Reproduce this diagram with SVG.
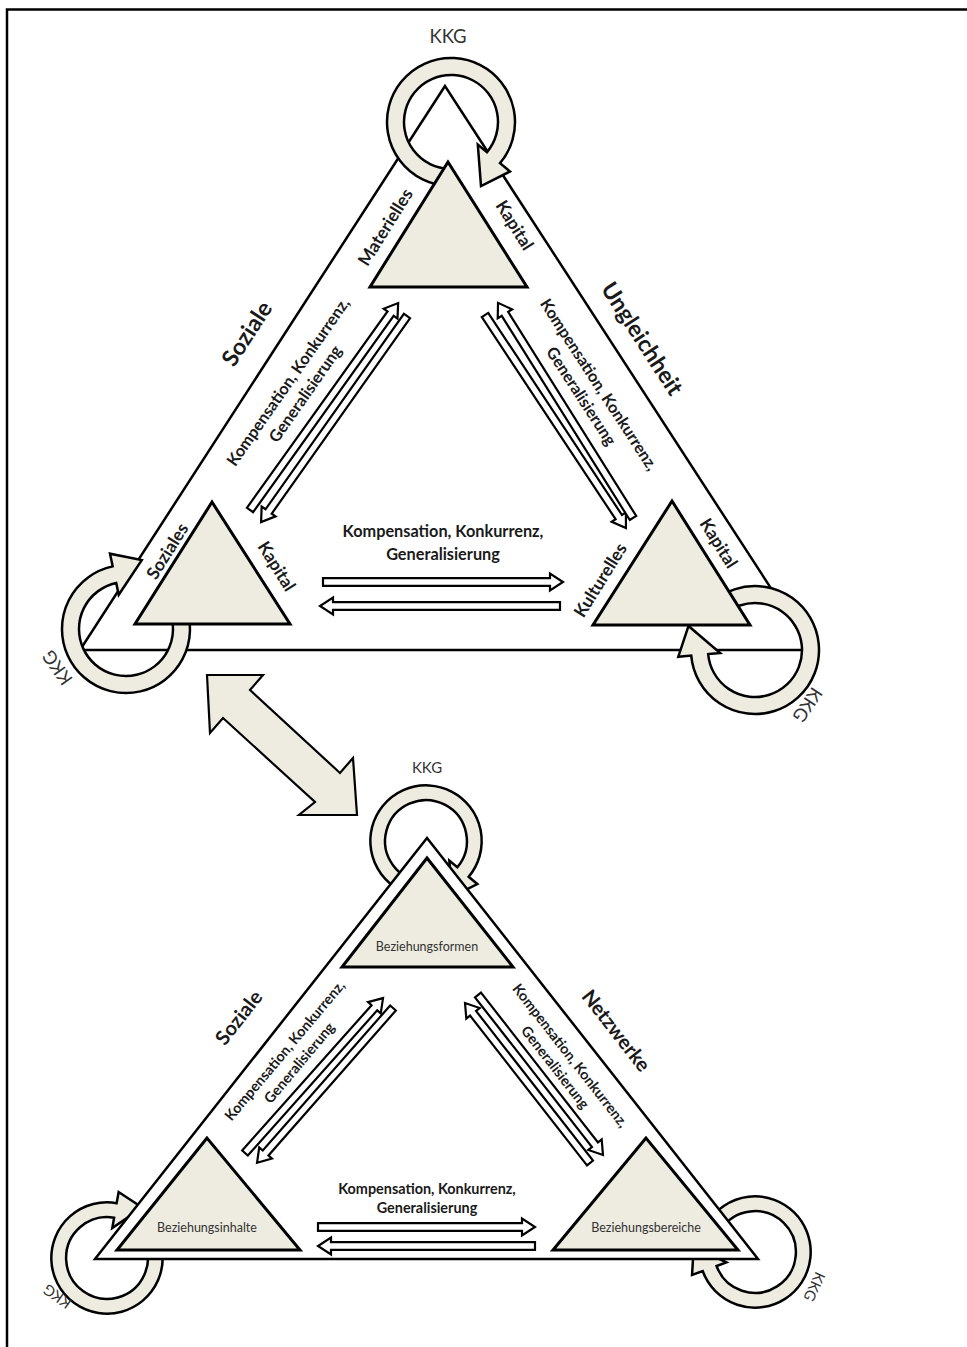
<svg xmlns="http://www.w3.org/2000/svg" xmlns:xlink="http://www.w3.org/1999/xlink" width="967" height="1347" viewBox="0 0 967 1347">
<style>
  .frame{fill:none;stroke:#000;stroke-width:2.5}
  .big{fill:none;stroke:#000;stroke-width:2.5;stroke-linejoin:miter}
  .outer{fill:#fff;stroke:#000;stroke-width:2.5}
  .node{fill:#EEECE1;stroke:#000;stroke-width:3;stroke-linejoin:miter}
  .ring{fill:#EEECE1;stroke:#000;stroke-width:2.5;stroke-linejoin:miter;vector-effect:non-scaling-stroke}
  .arr{fill:#fff;stroke:#000;stroke-width:2.2;stroke-linejoin:miter}
  .block{fill:#EEECE1;stroke:#000;stroke-width:2.2;stroke-linejoin:miter}
  text{font-family:Lato,"Open Sans","Liberation Sans",sans-serif;text-anchor:middle;dominant-baseline:central}
  .b{font-weight:700;fill:#1a1a1a}
  .t1{font-size:23px}
  .t2{font-size:17.5px}
  .t3{font-size:16.3px}
  .t4{font-size:20px}
  .t5{font-size:14.4px}
  .kkg{font-weight:400;fill:#333;font-size:18.5px}
  .kkgs{font-weight:400;fill:#333;font-size:15px}
  .in{font-weight:400;fill:#333;font-size:12.5px}
</style>
<defs>
  <path id="loop" class="ring" d="M-2.23,63.96 A64,64 0 1 1 49.03,41.14 L58.99,49.49 L30,64 L26.81,22.5 L36,30.21 A47,47 0 1 0 -1.64,46.97 Z"/>
</defs>
<rect width="967" height="1347" fill="#fff"/>
<g id="frame"><path class="frame" d="M7,1347 V9.5 H967"/></g>

<!-- ===== Top diagram ===== -->
<g id="top-frame-triangle"><polygon class="big" points="445,86 80,650 811,650"/></g>
<g id="top-self-loops">
  <use xlink:href="#loop" href="#loop" transform="translate(451,122)"/>
  <use xlink:href="#loop" href="#loop" transform="translate(126,629) rotate(218)"/>
  <use xlink:href="#loop" href="#loop" transform="translate(755,650) rotate(135)"/>
  <text class="kkg" x="448" y="36">KKG</text>
  <text class="kkg" transform="translate(57,668) rotate(235)">KKG</text>
  <text class="kkg" transform="translate(808,705) rotate(124)">KKG</text>
</g>
<g id="node-materielles-kapital">
  <polygon class="node" points="448,162 370,287 527,287"/>
  <text class="b t2" transform="translate(385,227) rotate(-58)">Materielles</text>
  <text class="b t2" transform="translate(515,225) rotate(58)">Kapital</text>
</g>
<g id="node-soziales-kapital">
  <polygon class="node" points="212,502 135,624 290,624"/>
  <text class="b t2" transform="translate(167,551) rotate(-58)">Soziales</text>
  <text class="b t2" transform="translate(277,566) rotate(58)">Kapital</text>
</g>
<g id="node-kulturelles-kapital">
  <polygon class="node" points="672,501 593,625 750,625"/>
  <text class="b t2" transform="translate(600,580) rotate(-58)">Kulturelles</text>
  <text class="b t2" transform="translate(719,543) rotate(58)">Kapital</text>
</g>
<g id="top-titles">
  <text class="b t1" transform="translate(246,333) rotate(-57)">Soziale</text>
  <text class="b t1" transform="translate(643,338) rotate(57)">Ungleichheit</text>
  <text class="b t3" transform="translate(287,381) rotate(-55)"><tspan x="0" y="0">Kompensation, Konkurrenz,</tspan><tspan x="0" y="21">Generalisierung</tspan></text>
  <text class="b t3" transform="translate(600,384) rotate(57)"><tspan x="0" y="0">Kompensation, Konkurrenz,</tspan><tspan x="0" y="21">Generalisierung</tspan></text>
  <text class="b t3" x="443" y="530">Kompensation, Konkurrenz,</text>
  <text class="b t3" x="443" y="553">Generalisierung</text>
</g>

<!-- ===== Bottom diagram ===== -->
<g id="bottom-self-loops">
  <use xlink:href="#loop" href="#loop" transform="translate(426,841) scale(0.87)"/>
  <use xlink:href="#loop" href="#loop" transform="translate(107,1258) rotate(240) scale(0.87)"/>
  <use xlink:href="#loop" href="#loop" transform="translate(755,1252) rotate(120) scale(0.87)"/>
  <text class="kkgs" x="427" y="767">KKG</text>
  <text class="kkgs" transform="translate(57,1297) rotate(215)">KKG</text>
  <text class="kkgs" transform="translate(815,1287) rotate(115)">KKG</text>
</g>
<g id="bottom-frame-triangle"><polygon class="outer" points="427,838 95,1259 758,1259"/></g>
<g id="node-beziehungsformen">
  <polygon class="node" points="427,858 342,967 513,967"/>
  <text class="in" x="427" y="946">Beziehungsformen</text>
</g>
<g id="node-beziehungsinhalte">
  <polygon class="node" points="207,1138 117,1250 300,1250"/>
  <text class="in" x="207" y="1227">Beziehungsinhalte</text>
</g>
<g id="node-beziehungsbereiche">
  <polygon class="node" points="646,1138 553,1250 738,1250"/>
  <text class="in" x="646" y="1227">Beziehungsbereiche</text>
</g>
<g id="bottom-titles">
  <text class="b t4" transform="translate(238,1017) rotate(-52)">Soziale</text>
  <text class="b t4" transform="translate(617,1030) rotate(52)">Netzwerke</text>
  <text class="b t5" transform="translate(284,1050) rotate(-50)"><tspan x="0" y="0">Kompensation, Konkurrenz,</tspan><tspan x="0" y="19">Generalisierung</tspan></text>
  <text class="b t5" transform="translate(571,1055) rotate(52)"><tspan x="0" y="0">Kompensation, Konkurrenz,</tspan><tspan x="0" y="19">Generalisierung</tspan></text>
  <text class="b t5" x="427" y="1188">Kompensation, Konkurrenz,</text>
  <text class="b t5" x="427" y="1207">Generalisierung</text>
</g>

<!-- ===== Connectors ===== -->
<g id="connectors">
  <path class="arr" transform="translate(323,582)" d="M0,-3.8 H227 V-8.5 L240,0 L227,8.5 V3.8 H0 Z"/>
  <path class="arr" transform="translate(560,606) rotate(180)" d="M0,-3.8 H227 V-8.5 L240,0 L227,8.5 V3.8 H0 Z"/>
  <path class="arr" transform="translate(250,510) rotate(-54.4)" d="M0,-3.8 H241.5 V-8.5 L254.5,0 L241.5,8.5 V3.8 H0 Z"/>
  <path class="arr" transform="translate(407,316) rotate(125.3)" d="M0,-3.8 H239.5 V-8.5 L252.5,0 L239.5,8.5 V3.8 H0 Z"/>
  <path class="arr" transform="translate(485,315) rotate(56.5)" d="M0,-3.8 H242.4 V-8.5 L255.4,0 L242.4,8.5 V3.8 H0 Z"/>
  <path class="arr" transform="translate(633,518) rotate(-122.1)" d="M0,-3.8 H241 V-8.5 L254,0 L241,8.5 V3.8 H0 Z"/>

  <path class="arr" transform="translate(318,1227)" d="M0,-3.8 H204 V-8.5 L217,0 L204,8.5 V3.8 H0 Z"/>
  <path class="arr" transform="translate(535,1246) rotate(180)" d="M0,-3.8 H204 V-8.5 L217,0 L204,8.5 V3.8 H0 Z"/>
  <path class="arr" transform="translate(245,1153) rotate(-48.3)" d="M0,-3.8 H194.5 V-8.5 L207.5,0 L194.5,8.5 V3.8 H0 Z"/>
  <path class="arr" transform="translate(393,1008) rotate(131.3)" d="M0,-3.8 H193 V-8.5 L206,0 L193,8.5 V3.8 H0 Z"/>
  <path class="arr" transform="translate(590,1163) rotate(-128)" d="M0,-3.8 H190 V-8.5 L203,0 L190,8.5 V3.8 H0 Z"/>
  <path class="arr" transform="translate(478,995) rotate(52)" d="M0,-3.8 H190 V-8.5 L203,0 L190,8.5 V3.8 H0 Z"/>

  <polygon class="block" points="207,675 263,675 250,690 340,773 353,758 357,815 299,815 315,802 223,718 210,733"/>
</g>
</svg>
